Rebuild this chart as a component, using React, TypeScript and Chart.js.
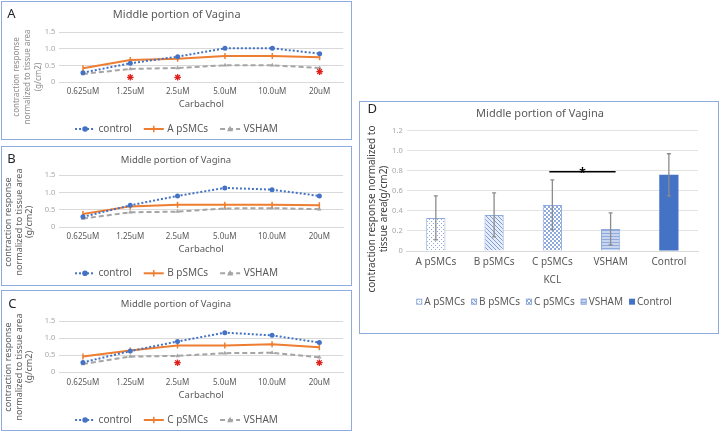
import React, { useEffect, useRef } from 'react';
import { Chart, registerables } from 'chart.js';

Chart.register(...registerables);

const FONT = '"Noto Sans", "DejaVu Sans", sans-serif';
Chart.defaults.font.family = FONT;

// Carbachol dose-response (contraction normalised to tissue area, g/cm2)
const doses = ['0.625uM', '1.25uM', '2.5uM', '5.0uM', '10.0uM', '20uM'];

const controlA = [0.29, 0.57, 0.77, 1.02, 1.02, 0.86];
const aPSMCs = [0.42, 0.67, 0.71, 0.79, 0.79, 0.75];
const vshamA = [0.25, 0.4, 0.43, 0.51, 0.51, 0.43];
const starsA = [null, 0.15, 0.15, null, null, 0.32];

const controlB = [0.3, 0.63, 0.9, 1.13, 1.08, 0.9];
const bPSMCs = [0.38, 0.6, 0.65, 0.65, 0.65, 0.63];
const vshamB = [0.25, 0.43, 0.45, 0.54, 0.55, 0.52];

const controlC = [0.29, 0.62, 0.9, 1.16, 1.08, 0.87];
const cPSMCs = [0.46, 0.64, 0.78, 0.78, 0.82, 0.73];
const vshamC = [0.24, 0.46, 0.48, 0.56, 0.57, 0.44];
const starsC = [null, null, 0.28, null, null, 0.28];

// KCL response per group, mean and error
const kclGroups = ['A pSMCs', 'B pSMCs', 'C pSMCs', 'VSHAM', 'Control'];
const kclMeans = [0.33, 0.36, 0.46, 0.22, 0.76];
const kclErrors = [0.22, 0.22, 0.25, 0.16, 0.21];
const kclSignificance = { from: 2, to: 3, level: 0.79, mark: '*' };

const Y_TITLE_LINES = ['contraction response', 'normalized to tissue area', '(g/cm2)'];
const D_Y_TITLE_LINES = ['contraction response normalized to', 'tissue area(g/cm2)'];

const BLUE = '#4472C4';
const ORANGE = '#ED7D31';
const GREY = '#A5A5A5';
const STAR_RED = '#E0201B';
const PATTERN_BLUE = '#8FAADC';

function drawMarker(ctx: CanvasRenderingContext2D, style: string, x: number, y: number, r: number, fill: string, stroke: string) {
  ctx.save();
  ctx.fillStyle = fill;
  ctx.strokeStyle = stroke;
  ctx.setLineDash([]);
  ctx.beginPath();
  if (style === 'circle') {
    ctx.arc(x, y, r, 0, Math.PI * 2);
    ctx.fill();
  } else if (style === 'triangle') {
    ctx.moveTo(x, y - r * 1.2);
    ctx.lineTo(x + r * 1.1, y + r * 0.8);
    ctx.lineTo(x - r * 1.1, y + r * 0.8);
    ctx.closePath();
    ctx.fill();
  } else {
    ctx.lineWidth = 1.5;
    ctx.moveTo(x, y - r);
    ctx.lineTo(x, y + r);
    ctx.stroke();
  }
  ctx.restore();
}

// Panel letter and rotated y-axis title
const panelTextPlugin = {
  id: 'panelText',
  afterDraw(chart: any, _args: any, opts: any) {
    const ctx: CanvasRenderingContext2D = chart.ctx;
    ctx.save();
    if (opts.letter) {
      const l = opts.letter;
      ctx.font = `${l.size}px ${FONT}`;
      ctx.fillStyle = l.color;
      ctx.textAlign = 'left';
      ctx.textBaseline = 'alphabetic';
      ctx.fillText(l.text, l.x, l.y);
    }
    if (opts.yTitle) {
      const t = opts.yTitle;
      ctx.font = `${t.size}px ${FONT}`;
      ctx.fillStyle = t.color;
      ctx.textAlign = 'center';
      ctx.textBaseline = 'middle';
      const lines: string[] = t.lines;
      lines.forEach((line: string, i: number) => {
        ctx.save();
        ctx.translate(t.xs[i], t.cy);
        ctx.rotate(-Math.PI / 2);
        ctx.fillText(line, 0, 0);
        ctx.restore();
      });
    }
    ctx.restore();
  },
};

// Legend with a line sample and its marker for each series
const lineLegendPlugin = {
  id: 'lineLegend',
  afterDraw(chart: any, _args: any, opts: any) {
    const ctx: CanvasRenderingContext2D = chart.ctx;
    const items = chart.data.datasets.filter((d: any) => !d.isMarker);
    ctx.save();
    ctx.font = `${opts.size}px ${FONT}`;
    const widths = items.map((d: any) => ctx.measureText(d.label).width);
    const total =
      widths.reduce((s: number, w: number) => s + w, 0) +
      items.length * (opts.lineLen + opts.textGap) +
      (items.length - 1) * opts.itemGap;
    let x = opts.cx - total / 2;
    items.forEach((d: any, i: number) => {
      ctx.strokeStyle = d.borderColor;
      ctx.lineWidth = d.borderWidth;
      ctx.setLineDash(d.borderDash || []);
      ctx.beginPath();
      ctx.moveTo(x, opts.y);
      ctx.lineTo(x + opts.lineLen, opts.y);
      ctx.stroke();
      ctx.setLineDash([]);
      drawMarker(ctx, d.pointStyle, x + opts.lineLen / 2, opts.y, d.pointRadius + 0.3, d.pointBackgroundColor, d.pointBorderColor);
      ctx.fillStyle = opts.color;
      ctx.textAlign = 'left';
      ctx.textBaseline = 'middle';
      ctx.fillText(d.label, x + opts.lineLen + opts.textGap, opts.y);
      x += opts.lineLen + opts.textGap + widths[i] + opts.itemGap;
    });
    ctx.restore();
  },
};

// Error bars on the bar chart
const errorBarPlugin = {
  id: 'errorBars',
  afterDatasetsDraw(chart: any, _args: any, opts: any) {
    const ctx: CanvasRenderingContext2D = chart.ctx;
    const meta = chart.getDatasetMeta(0);
    const yScale = chart.scales.y;
    const values = chart.data.datasets[0].data;
    ctx.save();
    ctx.strokeStyle = opts.color;
    ctx.lineWidth = opts.width;
    meta.data.forEach((bar: any, i: number) => {
      const v = values[i];
      const e = opts.errors[i];
      const top = yScale.getPixelForValue(v + e);
      const bot = yScale.getPixelForValue(v - e);
      ctx.beginPath();
      ctx.moveTo(bar.x, top);
      ctx.lineTo(bar.x, bot);
      ctx.moveTo(bar.x - opts.cap / 2, top);
      ctx.lineTo(bar.x + opts.cap / 2, top);
      ctx.moveTo(bar.x - opts.cap / 2, bot);
      ctx.lineTo(bar.x + opts.cap / 2, bot);
      ctx.stroke();
    });
    ctx.restore();
  },
};

// Significance bracket between two groups
const significancePlugin = {
  id: 'significance',
  afterDatasetsDraw(chart: any, _args: any, opts: any) {
    const ctx: CanvasRenderingContext2D = chart.ctx;
    const meta = chart.getDatasetMeta(0);
    const y = chart.scales.y.getPixelForValue(opts.level);
    const x1 = meta.data[opts.from].x - 3;
    const x2 = meta.data[opts.to].x + 5;
    ctx.save();
    ctx.strokeStyle = '#000';
    ctx.lineWidth = 1.5;
    ctx.beginPath();
    ctx.moveTo(x1, y);
    ctx.lineTo(x2, y);
    ctx.stroke();
    ctx.fillStyle = '#000';
    ctx.font = `bold 12px ${FONT}`;
    ctx.textAlign = 'center';
    ctx.textBaseline = 'alphabetic';
    ctx.fillText(opts.mark, (x1 + x2) / 2, y + 5);
    ctx.restore();
  },
};

// Legend of patterned boxes for the bar chart
const barLegendPlugin = {
  id: 'barLegend',
  afterDraw(chart: any, _args: any, opts: any) {
    const ctx: CanvasRenderingContext2D = chart.ctx;
    const ds = chart.data.datasets[0];
    const labels: string[] = chart.data.labels;
    ctx.save();
    ctx.font = `${opts.size}px ${FONT}`;
    const widths = labels.map((l) => ctx.measureText(l).width);
    const total =
      widths.reduce((s, w) => s + w, 0) + labels.length * (opts.box + opts.textGap) + (labels.length - 1) * opts.itemGap;
    let x = opts.cx - total / 2;
    labels.forEach((label, i) => {
      ctx.fillStyle = ds.backgroundColor[i];
      ctx.fillRect(x, opts.y - opts.box / 2, opts.box, opts.box);
      if (ds.borderWidth[i] > 0) {
        ctx.strokeStyle = ds.borderColor[i];
        ctx.lineWidth = 1;
        ctx.strokeRect(x + 0.5, opts.y - opts.box / 2 + 0.5, opts.box - 1, opts.box - 1);
      }
      ctx.fillStyle = opts.color;
      ctx.textAlign = 'left';
      ctx.textBaseline = 'middle';
      ctx.fillText(label, x + opts.box + opts.textGap, opts.y);
      x += opts.box + opts.textGap + widths[i] + opts.itemGap;
    });
    ctx.restore();
  },
};

function makePattern(kind: string, fg: string, bg: string): CanvasPattern | string {
  const size = kind === 'stripes' ? 3 : 4;
  const tile = document.createElement('canvas');
  tile.width = size;
  tile.height = size;
  const g = tile.getContext('2d');
  if (!g) return fg;
  g.fillStyle = bg;
  g.fillRect(0, 0, size, size);
  g.fillStyle = fg;
  if (kind === 'dots') {
    g.fillRect(0, 0, 1, 1);
    g.fillRect(2, 2, 1, 1);
  } else if (kind === 'diagonal') {
    for (let i = 0; i < size; i++) g.fillRect(i, i, 1, 1);
  } else if (kind === 'cross') {
    for (let i = 0; i < size; i++) {
      g.fillRect(i, i, 1, 1);
      g.fillRect(size - 1 - i, i, 1, 1);
    }
  } else if (kind === 'stripes') {
    g.fillRect(0, 0, size, 1);
  }
  return g.createPattern(tile, 'repeat') || fg;
}

type LineSpec = {
  letter: string;
  cells: string;
  control: number[];
  cellData: number[];
  sham: number[];
  stars: (number | null)[] | null;
  titleSize: number;
  pad: { top: number; left: number; right: number; bottom: number };
  yWidth: number;
  xHeight: number;
  titleGap: number;
  tickPad: number;
  legendY: number;
  yTitle: { xs: number[]; cy: number; size: number; color: string };
  letterPos: { x: number; y: number };
};

function lineConfig(s: LineSpec): any {
  const datasets: any[] = [
    {
      label: 'control',
      data: s.control,
      borderColor: BLUE,
      backgroundColor: BLUE,
      borderWidth: 2,
      borderDash: [2, 2],
      pointStyle: 'circle',
      pointRadius: 2.5,
      pointBackgroundColor: BLUE,
      pointBorderColor: BLUE,
      pointBorderWidth: 0,
    },
    {
      label: s.cells,
      data: s.cellData,
      borderColor: ORANGE,
      backgroundColor: ORANGE,
      borderWidth: 2,
      pointStyle: 'line',
      pointRotation: 90,
      pointRadius: 3,
      pointBackgroundColor: ORANGE,
      pointBorderColor: ORANGE,
      pointBorderWidth: 1.5,
    },
    {
      label: 'VSHAM',
      data: s.sham,
      borderColor: GREY,
      backgroundColor: GREY,
      borderWidth: 2,
      borderDash: [5, 3],
      pointStyle: 'triangle',
      pointRadius: 2.5,
      pointBackgroundColor: GREY,
      pointBorderColor: GREY,
      pointBorderWidth: 0,
    },
  ];
  if (s.stars) {
    datasets.unshift({
      label: '',
      isMarker: true,
      data: s.stars,
      showLine: false,
      pointStyle: 'star',
      pointRadius: 3.3,
      pointBorderColor: STAR_RED,
      pointBackgroundColor: STAR_RED,
      pointBorderWidth: 1.3,
    });
  }
  return {
    type: 'line',
    data: { labels: doses, datasets },
    plugins: [panelTextPlugin, lineLegendPlugin],
    options: {
      animation: false,
      responsive: false,
      maintainAspectRatio: false,
      layout: { padding: s.pad },
      elements: { line: { tension: 0 } },
      plugins: {
        legend: { display: false },
        tooltip: { enabled: false },
        title: {
          display: true,
          text: 'Middle portion of Vagina',
          color: '#595959',
          font: { size: s.titleSize, weight: 'normal' },
          padding: { top: 0, bottom: s.titleGap },
        },
        panelText: {
          letter: { text: s.letter, x: s.letterPos.x, y: s.letterPos.y, size: 13, color: '#262626' },
          yTitle: { lines: Y_TITLE_LINES, ...s.yTitle },
        },
        lineLegend: { y: s.legendY, cx: 175.5, size: 10, color: '#595959', lineLen: 20, textGap: 3.5, itemGap: 12 },
      },
      scales: {
        x: {
          offset: true,
          grid: { display: false, drawTicks: false },
          border: { color: '#D9D9D9' },
          ticks: { color: '#595959', font: { size: 8 }, padding: s.tickPad, maxRotation: 0, autoSkip: false },
          title: { display: true, text: 'Carbachol', color: '#595959', font: { size: 9.5 }, padding: 0 },
          afterFit: (sc: any) => {
            sc.height = s.xHeight;
          },
        },
        y: {
          min: 0,
          max: 1.5,
          ticks: { stepSize: 0.5, color: '#A6A6A6', font: { size: 7.5 }, padding: 4 },
          grid: { color: '#D9D9D9', drawTicks: false },
          border: { display: false },
          afterFit: (sc: any) => {
            sc.width = s.yWidth;
          },
        },
      },
    },
  };
}

function barConfig(): any {
  const fills = [
    makePattern('dots', PATTERN_BLUE, '#FFFFFF'),
    makePattern('diagonal', '#7F9BD3', '#E6ECF8'),
    makePattern('cross', PATTERN_BLUE, '#FFFFFF'),
    makePattern('stripes', PATTERN_BLUE, '#C7D5EF'),
    BLUE,
  ];
  return {
    type: 'bar',
    data: {
      labels: kclGroups,
      datasets: [
        {
          label: 'KCL',
          data: kclMeans,
          backgroundColor: fills,
          borderColor: [PATTERN_BLUE, PATTERN_BLUE, PATTERN_BLUE, PATTERN_BLUE, BLUE],
          borderWidth: [1, 1, 1, 1, 0],
          barPercentage: 0.33,
          categoryPercentage: 1,
        },
      ],
    },
    plugins: [panelTextPlugin, errorBarPlugin, significancePlugin, barLegendPlugin],
    options: {
      animation: false,
      responsive: false,
      maintainAspectRatio: false,
      layout: { padding: { top: 6.4, left: 23, right: 21, bottom: 48 } },
      plugins: {
        legend: { display: false },
        tooltip: { enabled: false },
        title: {
          display: true,
          text: 'Middle portion of Vagina',
          color: '#595959',
          font: { size: 11, weight: 'normal' },
          padding: { top: 0, bottom: 10.1 },
        },
        panelText: {
          letter: { text: 'D', x: 8.5, y: 12.3, size: 13, color: '#262626' },
          yTitle: { lines: D_Y_TITLE_LINES, xs: [13, 25], cy: 108, size: 10, color: '#404040' },
        },
        errorBars: { errors: kclErrors, color: '#8C8C8C', width: 1.3, cap: 4 },
        significance: kclSignificance,
        barLegend: { y: 200.7, cx: 185, size: 10, color: '#595959', box: 6, textGap: 2, itemGap: 6 },
      },
      scales: {
        x: {
          grid: { display: false, drawTicks: false },
          border: { color: '#D9D9D9' },
          ticks: { color: '#595959', font: { size: 10 }, padding: 5, maxRotation: 0, autoSkip: false },
          title: { display: true, text: 'KCL', color: '#595959', font: { size: 10 }, padding: 0 },
          afterFit: (sc: any) => {
            sc.height = 35;
          },
        },
        y: {
          min: 0,
          max: 1.2,
          ticks: { stepSize: 0.2, color: '#A6A6A6', font: { size: 7.5 }, padding: 4 },
          grid: { color: '#E3E3E3', drawTicks: false },
          border: { display: false },
          afterFit: (sc: any) => {
            sc.width = 24.7;
          },
        },
      },
    },
  };
}

function ChartPanel(props: { left: number; top: number; width: number; height: number; build: () => any }) {
  const { left, top, width, height, build } = props;
  const ref = useRef<HTMLCanvasElement>(null);
  useEffect(() => {
    if (!ref.current) return;
    const chart = new Chart(ref.current, build());
    return () => chart.destroy();
  }, []);
  return (
    <>
      <canvas ref={ref} width={width} height={height} style={{ position: 'absolute', left, top, width, height }} />
      <div
        style={{
          position: 'absolute',
          left,
          top,
          width,
          height,
          border: '1.5px solid #8FAADC',
          boxSizing: 'border-box',
          pointerEvents: 'none',
        }}
      />
    </>
  );
}

export default function App() {
  return (
    <div style={{ position: 'fixed', left: 0, top: 0, width: 720, height: 433, background: '#fff', overflow: 'hidden' }}>
      <ChartPanel
        left={1}
        top={1}
        width={351}
        height={139}
        build={() =>
          lineConfig({
            letter: 'A',
            cells: 'A pSMCs',
            control: controlA,
            cellData: aPSMCs,
            sham: vshamA,
            stars: starsA,
            titleSize: 11,
            pad: { top: 7.4, left: 9.1, right: 8.7, bottom: 30.3 },
            yWidth: 49.2,
            xHeight: 27.4,
            titleGap: 10.7,
            tickPad: 4.6,
            legendY: 128,
            yTitle: { xs: [16, 27, 37.5], cy: 76, size: 8, color: '#8C8C8C' },
            letterPos: { x: 6.3, y: 17.3 },
          })
        }
      />
      <ChartPanel
        left={1}
        top={146}
        width={351}
        height={140}
        build={() =>
          lineConfig({
            letter: 'B',
            cells: 'B pSMCs',
            control: controlB,
            cellData: bPSMCs,
            sham: vshamB,
            stars: null,
            titleSize: 9.5,
            pad: { top: 8.3, left: 8, right: 9, bottom: 31.3 },
            yWidth: 50.3,
            xHeight: 27.4,
            titleGap: 9.3,
            tickPad: 4.6,
            legendY: 127.3,
            yTitle: { xs: [7.5, 18, 28.5], cy: 76, size: 9, color: '#595959' },
            letterPos: { x: 6.3, y: 17.3 },
          })
        }
      />
      <ChartPanel
        left={1}
        top={290}
        width={351}
        height={141}
        build={() =>
          lineConfig({
            letter: 'C',
            cells: 'C pSMCs',
            control: controlC,
            cellData: cPSMCs,
            sham: vshamC,
            stars: starsC,
            titleSize: 9.5,
            pad: { top: 8.3, left: 8, right: 9, bottom: 30.3 },
            yWidth: 50.3,
            xHeight: 28.4,
            titleGap: 11.3,
            tickPad: 5.6,
            legendY: 130,
            yTitle: { xs: [7.5, 18, 28.5], cy: 77, size: 9, color: '#595959' },
            letterPos: { x: 7.3, y: 17.7 },
          })
        }
      />
      <ChartPanel left={359} top={101} width={360} height={233} build={barConfig} />
    </div>
  );
}
